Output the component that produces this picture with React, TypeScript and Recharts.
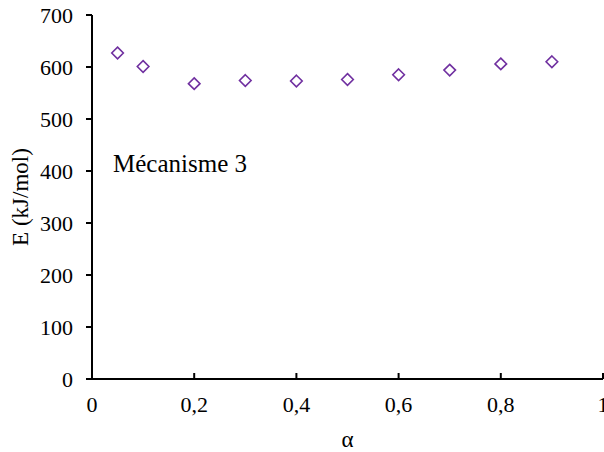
import React from "react";
import {
  ScatterChart,
  Scatter,
  XAxis,
  YAxis,
  Customized,
} from "recharts";

// conversion alpha and activation energy (kJ/mol)
const alpha = [0.05, 0.1, 0.2, 0.3, 0.4, 0.5, 0.6, 0.7, 0.8, 0.9];
const energy = [627, 601, 568, 574, 573, 576, 585, 594, 606, 610];
const xTicks = [0, 0.2, 0.4, 0.6, 0.8, 1];
const yTicks = [0, 100, 200, 300, 400, 500, 600, 700];
const annotation = "Mécanisme 3";

const data = alpha.map((a, i) => ({ a, e: energy[i] }));

const FONT = "Liberation Serif, Times New Roman, serif";
const PURPLE = "#7030A0";

const Diamond = (props: any) => {
  const { cx, cy } = props;
  if (cx == null || cy == null) return null;
  const r = 5.8;
  return (
    <path
      d={`M${cx},${cy - r}L${cx + r},${cy}L${cx},${cy + r}L${cx - r},${cy}Z`}
      fill="none"
      stroke={PURPLE}
      strokeWidth={1.6}
    />
  );
};

const XTick = (props: any) => {
  const { x, y, payload } = props;
  return (
    <g>
      <line x1={x} x2={x} y1={y - 6} y2={y} stroke="#000" strokeWidth={2} />
      <text x={x} y={y + 33} textAnchor="middle" fontFamily={FONT} fontSize={22} fill="#000">
        {String(payload.value).replace(".", ",")}
      </text>
    </g>
  );
};

const Note = (props: any) => {
  const { offset } = props;
  const left = offset ? offset.left : 92;
  return (
    <text x={left + 21} y={172} fontFamily={FONT} fontSize={25} fill="#000">
      {annotation}
    </text>
  );
};

export default function App() {
  return (
    <div style={{ position: "absolute", left: 0, top: 0, background: "#fff", fontFamily: FONT }}>
      <ScatterChart width={604} height={452} margin={{ top: 15, right: 1, bottom: 0, left: 0 }} style={{ fontFamily: FONT }}>
        <XAxis
          type="number"
          dataKey="a"
          domain={[0, 1]}
          ticks={xTicks}
          tickLine={false}
          tickSize={0}
          tickMargin={0}
          tick={<XTick />}
          axisLine={{ stroke: "#000", strokeWidth: 2 }}
          height={73}
          interval={0}
          label={{ value: "α", position: "insideBottom", offset: 5, fill: "#000", fontFamily: FONT, fontSize: 23 }}
        />
        <YAxis
          type="number"
          dataKey="e"
          domain={[0, 700]}
          ticks={yTicks}
          width={92}
          interval={0}
          tickSize={6}
          tickMargin={13}
          tickLine={{ stroke: "#000", strokeWidth: 2 }}
          axisLine={{ stroke: "#000", strokeWidth: 2 }}
          tick={{ fill: "#000", fontFamily: FONT, fontSize: 22 }}
          label={{ value: "E (kJ/mol)", angle: -90, position: "insideLeft", offset: 20, fill: "#000", fontFamily: FONT, fontSize: 23, style: { textAnchor: "middle" } }}
        />
        <Scatter data={data} shape={<Diamond />} isAnimationActive={false} />
        <Customized component={Note} />
      </ScatterChart>
    </div>
  );
}
